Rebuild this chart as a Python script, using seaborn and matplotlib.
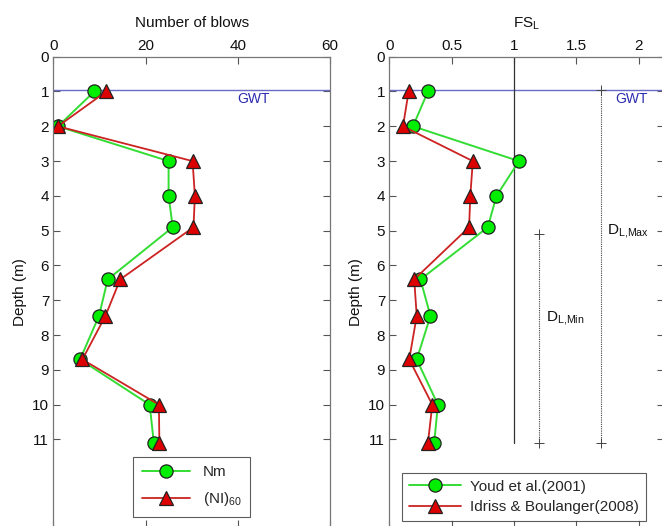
import matplotlib
matplotlib.use("Agg")
import matplotlib.pyplot as plt
import seaborn as sns
import pandas as pd

# ---- data ----
depth = [1.0, 2.0, 3.0, 4.0, 4.9, 6.4, 7.45, 8.7, 10.0, 11.1]
nm = [8.9, 1.0, 25.0, 25.0, 25.9, 11.8, 9.9, 5.8, 20.9, 21.8]
n160 = [11.5, 1.0, 30.2, 30.7, 30.4, 14.5, 11.3, 6.3, 22.9, 23.0]
fs_youd = [0.31, 0.19, 1.04, 0.86, 0.79, 0.25, 0.33, 0.22, 0.39, 0.36]
fs_ib = [0.155, 0.11, 0.67, 0.65, 0.64, 0.20, 0.22, 0.16, 0.345, 0.31]
gwt_depth = 0.95
dl_min_x, dl_min_depths = 1.2, [5.1, 11.1]
dl_max_x, dl_max_depths = 1.7, [0.95, 11.1]
fs_one_depths = [0.0, 11.1]
depth_ticks = list(range(0, 12))
blows_ticks = [0, 20, 40, 60]
fs_ticks = [0, 0.5, 1, 1.5, 2]
fs_tick_labels = ["0", "0.5", "1", "1.5", "2"]

sns.set_theme(style="white")
plt.rcParams["font.family"] = ["Liberation Sans", "DejaVu Sans"]
plt.rcParams["mathtext.default"] = "regular"
plt.rcParams["xtick.direction"] = "in"
plt.rcParams["ytick.direction"] = "in"

fig = plt.figure(figsize=(6.62, 5.26), dpi=100)
W, H = 662, 526
def ax_rect(l, r, t, b):
    return [l / W, 1 - b / H, (r - l) / W, (b - t) / H]

ax1 = fig.add_axes(ax_rect(53.3, 330, 56.7, 526.5))
ax2 = fig.add_axes(ax_rect(389.3, 663.5, 56.7, 526.5))

red = "#dd0000"
rline = "#cc2222"
gline = "#33dd33"

df1 = pd.DataFrame({"depth": depth, "Nm": nm, "N160": n160,
                    "youd": fs_youd, "ib": fs_ib})

common_g = dict(sort=False, estimator=None, color=gline, lw=1.4, marker="o",
                markersize=9.5, markerfacecolor="#00ee00",
                markeredgecolor="#222222", markeredgewidth=0.9)
common_r = dict(sort=False, estimator=None, color=rline, lw=1.3, marker="^",
                markersize=10, markerfacecolor=red,
                markeredgecolor="#222222", markeredgewidth=0.9)

sns.lineplot(data=df1, x="Nm", y="depth", ax=ax1, label="Nm", **common_g)
sns.lineplot(data=df1, x="N160", y="depth", ax=ax1, label="(NI)$_{60}$", **common_r)
sns.lineplot(data=df1, x="youd", y="depth", ax=ax2, label="Youd et al.(2001)", **common_g)
sns.lineplot(data=df1, x="ib", y="depth", ax=ax2, label="Idriss & Boulanger(2008)", **common_r)

# reference lines
for ax in (ax1, ax2):
    ax.axhline(gwt_depth, color="#6a6ac8", lw=1.0, zorder=1)

ax2.plot([1, 1], fs_one_depths, color="#333333", lw=0.9, zorder=1)
ax2.plot([dl_min_x] * 2, dl_min_depths, color="#444444", lw=0.8, ls=(0, (1, 1)),
         marker="+", markersize=7, markeredgewidth=0.7, zorder=1)
ax2.plot([dl_max_x] * 2, dl_max_depths, color="#444444", lw=0.8, ls=(0, (1, 1)),
         marker="+", markersize=7, markeredgewidth=0.7, zorder=1)

ax1.text(39.8, 1.22, "GWT", color="#2a2ab0", fontsize=10, va="center", ha="left")
ax2.text(1.81, 1.22, "GWT", color="#2a2ab0", fontsize=10, va="center", ha="left")
ax2.text(1.75, 5.0, r"D$_{L{,}Max}$", color="#111111", fontsize=11,
         va="center", ha="left")
ax2.text(1.26, 7.5, r"D$_{L{,}Min}$", color="#111111", fontsize=11,
         va="center", ha="left")

# axes formatting
for ax in (ax1, ax2):
    ax.set_ylim(13.5, 0)
    ax.set_yticks(depth_ticks)
    ax.set_yticklabels([str(t) for t in depth_ticks])
    ax.xaxis.set_ticks_position("both")
    ax.yaxis.set_ticks_position("both")
    ax.xaxis.set_label_position("top")
    ax.tick_params(axis="both", which="both", direction="in", length=5,
                   width=0.8, color="#555555", labelsize=11, labelcolor="#111111",
                   top=True, bottom=True, left=True, right=True,
                   labeltop=True, labelbottom=False, pad=3)
    for sp in ax.spines.values():
        sp.set_color("#777777")
        sp.set_linewidth(0.9)
    ax.set_ylabel("Depth (m)", fontsize=11, color="#111111", labelpad=4)
    ax.grid(False)

ax1.set_xlim(0, 60)
ax1.set_xticks(blows_ticks)
ax1.set_xticklabels([str(t) for t in blows_ticks])
ax1.set_xlabel("Number of blows", fontsize=11, color="#111111", labelpad=8)

ax2.set_xlim(0, 2.2)
ax2.set_xticks(fs_ticks)
ax2.set_xticklabels(fs_tick_labels)
ax2.set_xlabel("FS$_L$", fontsize=11, color="#111111", labelpad=8)

leg1 = ax1.legend(loc="lower center", bbox_to_anchor=(0.5, 0.005), fontsize=11,
                  frameon=True, fancybox=False, edgecolor="#333333",
                  handlelength=3.2, borderpad=0.55, labelspacing=0.7)
leg1.get_frame().set_linewidth(0.8)
leg2 = ax2.legend(loc="lower center", bbox_to_anchor=(0.49, -0.004), fontsize=11,
                  frameon=True, fancybox=False, edgecolor="#333333",
                  handlelength=3.4, borderpad=0.45, labelspacing=0.4,
                  handletextpad=0.6)
leg2.get_frame().set_linewidth(0.8)

fig.savefig("out.png", dpi=100)
